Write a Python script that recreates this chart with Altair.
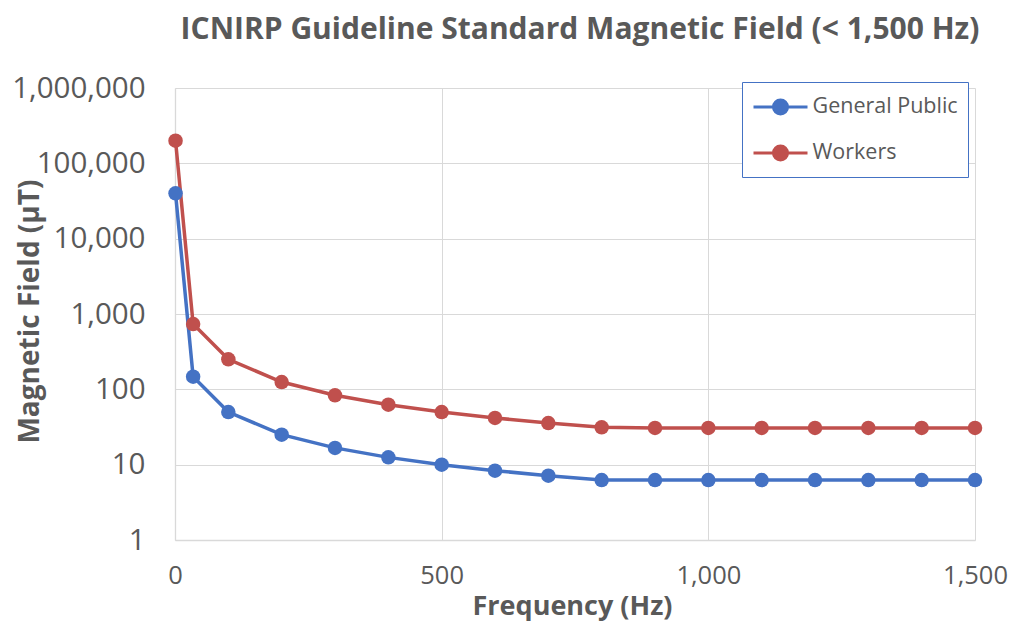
import altair as alt
import pandas as pd

# ---- data ----
freq = [1, 34, 100, 200, 300, 400, 500, 600, 700, 800, 900, 1000, 1100, 1200, 1300, 1400, 1500]
general_public = [40000, 147, 50, 25, 16.7, 12.5, 10, 8.33, 7.14, 6.25, 6.25, 6.25, 6.25, 6.25, 6.25, 6.25, 6.25]
workers = [200000, 735, 250, 125, 83.3, 62.5, 50, 41.7, 35.7, 31.3, 30.7, 30.7, 30.7, 30.7, 30.7, 30.7, 30.7]
series = ["General Public", "Workers"]
colors = ["#4472C4", "#C0504D"]
x_ticks = [0, 500, 1000, 1500]
y_ticks = [1, 10, 100, 1000, 10000, 100000, 1000000]

rows = []
for name, vals in zip(series, [general_public, workers]):
    for f, v in zip(freq, vals):
        rows.append({"Frequency": f, "Field": v, "Series": name})
df = pd.DataFrame(rows)

TEXT = "#595959"
FONT = "Open Sans"

# legend symbol: horizontal line with a filled-looking dot (concentric circles)
def circ(r):
    return f"M{-r},0A{r},{r} 0 1,0 {r},0A{r},{r} 0 1,0 {-r},0"
sym_path = "M-2,0L2,0" + "".join(circ(r) for r in [0.52, 0.4, 0.28, 0.16, 0.05])

chart = alt.Chart(df).mark_line(
    strokeWidth=3.5,
    point=alt.OverlayMarkDef(filled=True, size=210, opacity=1),
).encode(
    x=alt.X("Frequency:Q",
            scale=alt.Scale(domain=[0, 1500], nice=False, zero=False),
            axis=alt.Axis(values=x_ticks, format=",.0f", title="Frequency (Hz)",
                          labelPadding=23, labelFlush=False, labelFontSize=25.5,
                          titleX=397, titleY=66,
                          titleBaseline="middle", titleAlign="center",
                          titleFontSize=27)),
    y=alt.Y("Field:Q",
            scale=alt.Scale(type="log", domain=[1, 1000000], nice=False),
            axis=alt.Axis(values=y_ticks, format=",.0f", title="Magnetic Field (µT)",
                          labelPadding=30, titleX=-145, titleY=223, titleAngle=-90,
                          titleBaseline="middle", titleAlign="center",
                          titleFontSize=28, labelFontSize=29.5)),
    color=alt.Color("Series:N",
                    scale=alt.Scale(domain=series, range=colors),
                    legend=alt.Legend(
                        title=None, orient="none", legendX=567, legendY=-6,
                        symbolType=sym_path, symbolSize=729, symbolStrokeWidth=3,
                        symbolOffset=13.5, labelOffset=17,
                        labelFont=FONT, labelFontSize=21.5, labelColor=TEXT,
                        padding=10, rowPadding=17,
                        strokeColor="#4472C4", fillColor="white",
                    )),
).properties(
    width=800,
    height=452,
    title=alt.TitleParams(
        "ICNIRP Guideline Standard Magnetic Field (< 1,500 Hz)",
        font=FONT, fontSize=30, fontWeight="bold", color=TEXT,
        anchor="middle", offset=28, dx=5,
    ),
    autosize=alt.AutoSizeParams(type="none"),
    padding={"left": 167, "top": 80, "right": 33, "bottom": 83},
).configure_view(
    stroke=None
).configure_axis(
    grid=True, gridColor="#D9D9D9", gridWidth=1,
    domainColor="#D9D9D9", domainWidth=1.3,
    ticks=False, tickSize=0,
    labelFont=FONT, labelFontSize=28, labelColor=TEXT,
    titleFont=FONT, titleFontSize=24, titleFontWeight="bold", titleColor=TEXT,
)

chart.save("out.html", embed_options={"renderer": "svg", "actions": False})
